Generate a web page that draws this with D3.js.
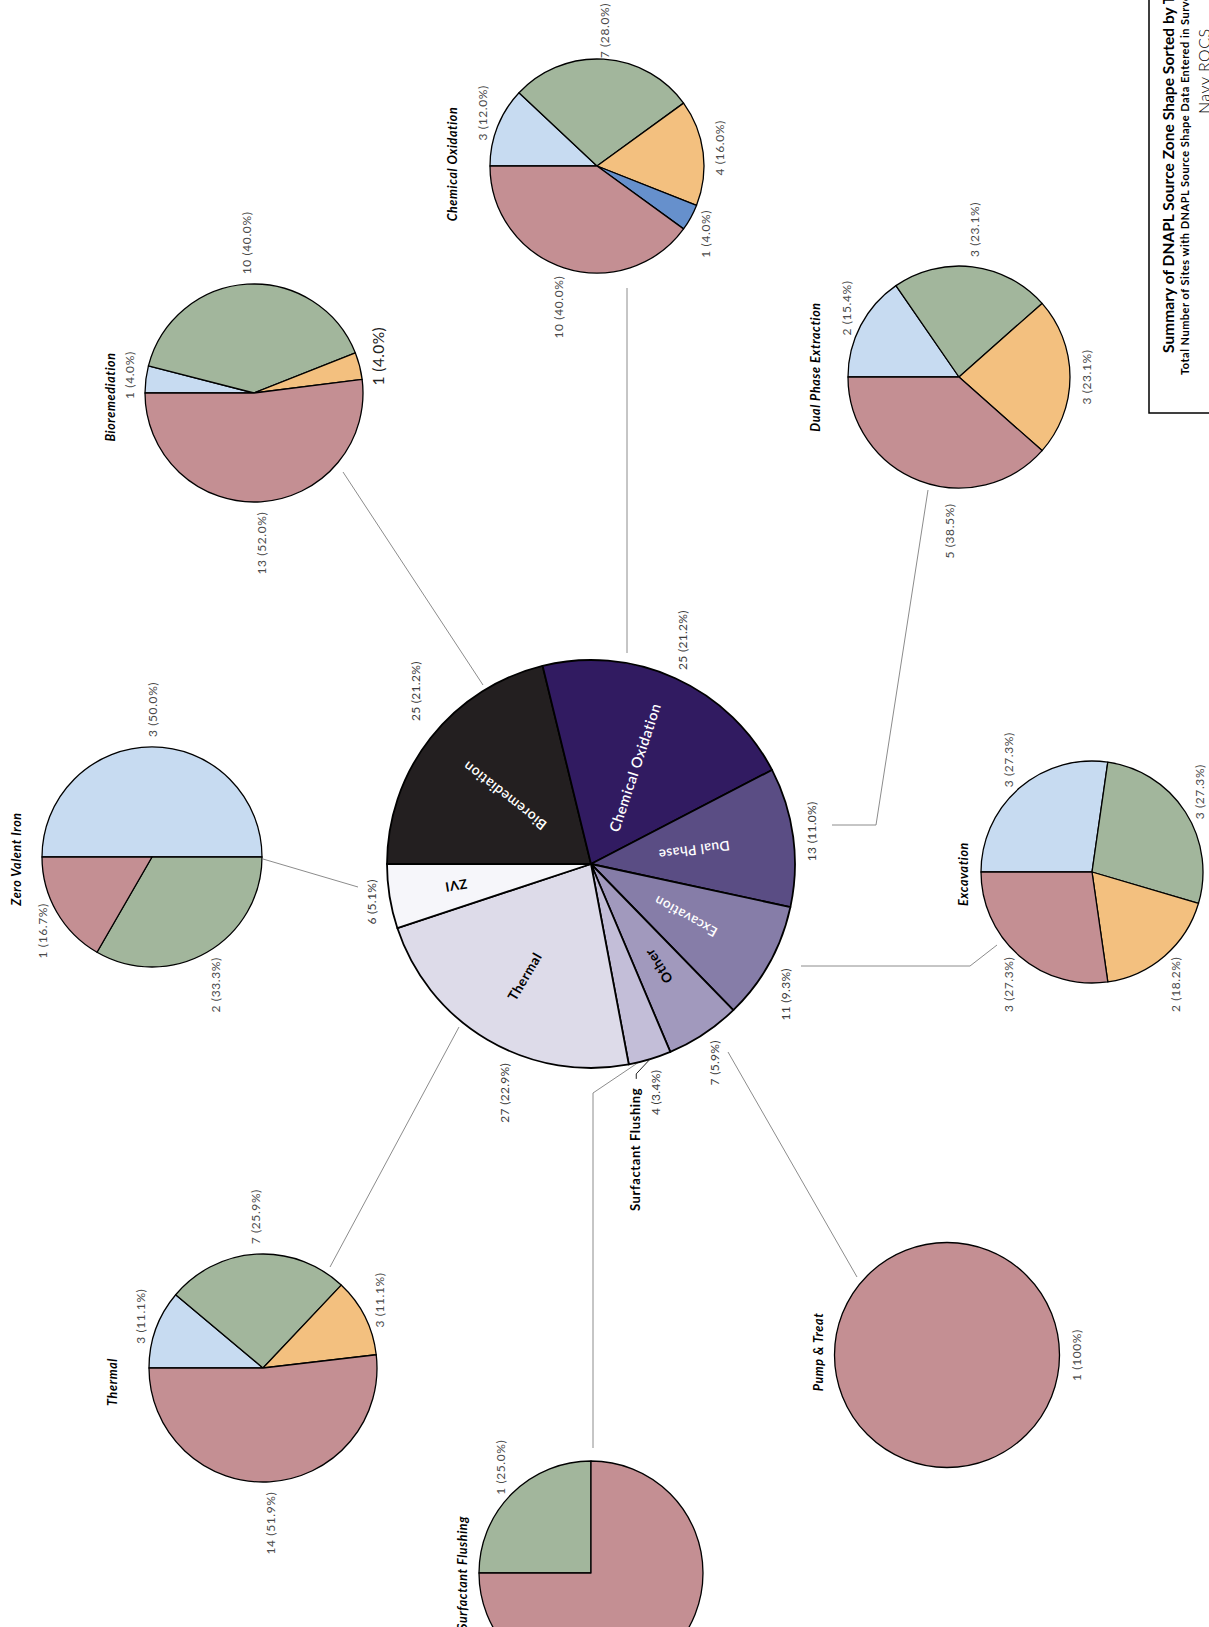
<!DOCTYPE html>
<html>
<head>
<meta charset="utf-8">
<script src="https://cdn.jsdelivr.net/npm/d3@7"></script>
<style>
  html, body { margin: 0; padding: 0; background: #fff; overflow: hidden; }
  svg { display: block; }
  text { font-family: Lato, "Open Sans", sans-serif; }
</style>
</head>
<body>
<div id="chart"></div>
<script>
// ---- Sites per remediation technology (centre pie) ----
const technologies = ["Bioremediation", "Chemical Oxidation", "Dual Phase", "Excavation",
                      "Other", "Surfactant Flushing", "Thermal", "ZVI"];
const technologyInnerLabels = ["Bioremediation", "Chemical Oxidation", "Dual Phase", "Excavation",
                               "Other", "", "Thermal", "ZVI"];
const technologySites = [25, 25, 13, 11, 7, 4, 27, 6];

// ---- Source zone shape breakdown per technology (shape classes in fixed order) ----
const shapeClasses = ["shape 1", "shape 2", "shape 3", "shape 4", "shape 5"];
const subTitles = ["Chemical Oxidation", "Bioremediation", "Dual Phase Extraction", "Zero Valent Iron",
                   "Excavation", "Thermal", "Pump & Treat", "Surfactant Flushing"];
const chemOxShapes      = [3, 7, 4, 1, 10];
const bioShapes         = [1, 10, 1, 0, 13];
const dualPhaseShapes   = [2, 3, 3, 0, 5];
const zviShapes         = [3, 2, 0, 0, 1];
const excavationShapes  = [3, 3, 2, 0, 3];
const thermalShapes     = [3, 7, 3, 0, 14];
const pumpTreatShapes   = [0, 0, 0, 0, 1];
const surfactantShapes  = [0, 1, 0, 0, 3];
const subSeries = [chemOxShapes, bioShapes, dualPhaseShapes, zviShapes,
                   excavationShapes, thermalShapes, pumpTreatShapes, surfactantShapes];

const titleLines = [
  "Summary of DNAPL Source Zone Shape Sorted by Technology",
  "Total Number of Sites with DNAPL Source Shape Data Entered in Survey",
  "Navy ROCS"
];

// ---- Layout (landscape sheet, turned a quarter for the portrait page) ----
const PAGE_W = 1209, PAGE_H = 1627;
const SHEET_RIGHT = PAGE_H - 3;   // labels are kept inside the sheet's right edge
const mainPie = { cx: 763, cy: 591, r: 204 };
const subLayout = [
  { cx: 1461, cy: 597,  r: 107,   gap: 38, dx: 2 },
  { cx: 1234, cy: 254,  r: 109,   gap: 35, dx: -4 },
  { cx: 1250, cy: 959,  r: 111,   gap: 33, dx: 10 },
  { cx: 770,  cy: 152,  r: 110,   gap: 26, dx: -2 },
  { cx: 755,  cy: 1092, r: 111,   gap: 18, dx: -2 },
  { cx: 259,  cy: 263,  r: 114,   gap: 37, dx: -14 },
  { cx: 272,  cy: 947,  r: 112.5, gap: 16, dx: 3 },
  { cx: 54,   cy: 591,  r: 112,   gap: 17, dx: 0 }
];
// hand adjustments of a few value labels (sheet pixels)
const mainLabelNudge = { "Bioremediation": [21, 0], "Excavation": [-13, 0], "Thermal": [-17, 26] };
const subLabelNudge = { "Dual Phase Extraction|shape 5": [-15, 36] };
// radial position of the names written inside the centre pie (fraction of radius)
const innerLabelRadius = { "Bioremediation": 0.54, "Chemical Oxidation": 0.52, "Dual Phase": 0.51,
  "Excavation": 0.53, "Other": 0.6, "Thermal": 0.64, "ZVI": 0.67 };
const innerLabelStyle = {
  "Bioremediation": { size: 14, fill: "#fff", weight: 600, turn: 0 },
  "Chemical Oxidation": { size: 14.5, fill: "#fff", weight: 600, turn: -6 },
  "Dual Phase": { size: 13.5, fill: "#fff", weight: 600, turn: 0 },
  "Excavation": { size: 13.5, fill: "#fff", weight: 600, turn: 0 },
  "Other": { size: 13.5, fill: "#000", weight: 700, turn: 0 },
  "Thermal": { size: 13.5, fill: "#000", weight: 700, turn: 0 },
  "ZVI": { size: 13, fill: "#000", weight: 700, turn: 0 }
};
// leader lines joining the centre pie to each breakdown pie
const leaderPaths = [
  [[1155, 343], [942, 483]],
  [[1339, 627], [974, 627]],
  [[1137, 928], [802, 876], [802, 832]],
  [[682, 997], [661, 970], [661, 801]],
  [[350, 857], [575, 728]],
  [[179, 593], [534, 593], [565, 639]],
  [[600, 459], [360, 330]],
  [[768, 263], [740, 358]]
];

const svg = d3.select("#chart").append("svg")
  .attr("width", PAGE_W).attr("height", PAGE_H);
const sheet = svg.append("g")
  .attr("transform", `translate(0,${PAGE_H}) rotate(-90)`);

const pctText = (v, total) => {
  const p = v / total * 100;
  return `${v} (${p === 100 ? "100" : p.toFixed(1)}%)`;
};

// place a value label just outside the rim, pushed out by half its box
function placeOutside(sel, cx, r, pad, nudgeOf) {
  sel.each(function (d) {
    const t = d3.select(this);
    const w = this.getComputedTextLength();
    const h = parseFloat(t.attr("font-size"));
    const a = (d.startAngle + d.endAngle) / 2;
    const s = Math.sin(a), c = Math.cos(a);
    const n = nudgeOf(d) || [0, 0];
    let x = s * (r + pad) + s * w / 2 + n[0];
    const y = -c * (r + pad) - c * h * 0.55 + n[1];
    if (cx + x + w / 2 > SHEET_RIGHT) x = SHEET_RIGHT - cx - w / 2;
    t.attr("x", x).attr("y", y)
     .attr("text-anchor", "middle")
     .attr("dominant-baseline", "central");
  });
}

// ---- leader lines ----
const line = d3.line();
sheet.append("g").selectAll("path").data(leaderPaths).join("path")
  .attr("d", line)
  .attr("fill", "none")
  .attr("stroke", "#8c8c8c")
  .attr("stroke-width", 1);

// ---- breakdown pies ----
const shapeColor = d3.scaleOrdinal()
  .domain(shapeClasses)
  .range(["#c7dbf1", "#a2b69c", "#f3c07f", "#6690cc", "#c48f93"]);
const subPie = d3.pie().sort(null).value(d => d.v);

subSeries.forEach((vals, i) => {
  const L = subLayout[i];
  const total = d3.sum(vals);
  const data = vals.map((v, k) => ({ cls: shapeClasses[k], v }));
  const arcs = subPie(data).filter(d => d.data.v > 0);
  const arc = d3.arc().innerRadius(0).outerRadius(L.r);
  const g = sheet.append("g").attr("transform", `translate(${L.cx},${L.cy})`);

  g.selectAll("path").data(arcs).join("path")
    .attr("d", arc)
    .attr("fill", d => shapeColor(d.data.cls))
    .attr("stroke", "#000")
    .attr("stroke-width", 1.3)
    .attr("stroke-linejoin", "round");

  const big = d => subTitles[i] === "Bioremediation" && d.data.cls === shapeClasses[2];
  g.selectAll("text.val").data(arcs).join("text")
    .attr("class", "val")
    .attr("font-size", d => big(d) ? 15.5 : 12)
    .attr("letter-spacing", d => big(d) ? 0.4 : 0.6)
    .attr("fill", d => big(d) ? "#222" : "#4a4a4a")
    .text(d => pctText(d.data.v, total))
    .call(placeOutside, L.cx, L.r, 10, d => subLabelNudge[`${subTitles[i]}|${d.data.cls}`]);

  sheet.append("text")
    .attr("x", L.cx + L.dx)
    .attr("y", L.cy - L.r - L.gap)
    .attr("text-anchor", "middle")
    .attr("dominant-baseline", "central")
    .attr("font-size", 12.5)
    .attr("letter-spacing", 0.6)
    .attr("font-weight", 700)
    .attr("font-style", "italic")
    .attr("fill", "#000")
    .text(subTitles[i]);
});

// ---- centre pie ----
const techColor = d3.scaleOrdinal()
  .domain(technologies)
  .range(["#231f20", "#311b61", "#5a4d84", "#867da8", "#a199bd", "#c3bed8", "#dddbe9", "#f6f6fa"]);
const mainTotal = d3.sum(technologySites);
const mainArcs = d3.pie().sort(null).value(d => d.v)(
  technologies.map((name, k) => ({ name, v: technologySites[k], inner: technologyInnerLabels[k] }))
);
const mg = sheet.append("g").attr("transform", `translate(${mainPie.cx},${mainPie.cy})`);
mg.selectAll("path").data(mainArcs).join("path")
  .attr("d", d3.arc().innerRadius(0).outerRadius(mainPie.r))
  .attr("fill", d => techColor(d.data.name))
  .attr("stroke", "#000")
  .attr("stroke-width", 1.8)
  .attr("stroke-linejoin", "round");

// names inside the slices, written along the radius and kept readable
mg.selectAll("text.inner").data(mainArcs.filter(d => d.data.inner)).join("text")
  .attr("class", "inner")
  .attr("text-anchor", "middle")
  .attr("dominant-baseline", "central")
  .attr("font-size", d => innerLabelStyle[d.data.inner].size)
  .attr("font-weight", d => innerLabelStyle[d.data.inner].weight)
  .attr("fill", d => innerLabelStyle[d.data.inner].fill)
  .attr("letter-spacing", 0.5)
  .attr("transform", d => {
    const a = (d.startAngle + d.endAngle) / 2;
    const rr = mainPie.r * innerLabelRadius[d.data.inner];
    let rot = a * 180 / Math.PI - 90;
    while (rot > 75) rot -= 180;
    while (rot <= -105) rot += 180;
    rot += innerLabelStyle[d.data.inner].turn;
    return `translate(${Math.sin(a) * rr},${-Math.cos(a) * rr}) rotate(${rot})`;
  })
  .text(d => d.data.inner);

// value labels round the centre pie
const mainVals = mg.selectAll("text.val").data(mainArcs).join("text")
  .attr("class", "val")
  .attr("font-size", 12)
  .attr("letter-spacing", 0.3)
  .attr("fill", "#3c3c3c")
  .text(d => pctText(d.data.v, mainTotal))
  .call(placeOutside, mainPie.cx, mainPie.r, 12, d => mainLabelNudge[d.data.name]);

// the narrow slice without an inside name gets its name beside the value
const narrow = mainArcs.find(d => !d.data.inner);
const narrowVal = mainVals.filter(d => d === narrow);
const vx = +narrowVal.attr("x"), vy = +narrowVal.attr("y");
const nameText = mg.append("text")
  .attr("x", vx - 57).attr("y", vy - 20)
  .attr("text-anchor", "middle")
  .attr("dominant-baseline", "central")
  .attr("font-size", 13)
  .attr("letter-spacing", 0.6)
  .attr("font-weight", 700)
  .attr("fill", "#000")
  .text(narrow.data.name);
const nameEnd = vx - 57 + nameText.node().getComputedTextLength() / 2;
const na = (narrow.startAngle + narrow.endAngle) / 2;
mg.append("path")
  .attr("d", line([
    [Math.sin(na) * mainPie.r, -Math.cos(na) * mainPie.r],
    [nameEnd + 14, vy - 19],
    [nameEnd + 9, vy - 19]
  ]))
  .attr("fill", "none")
  .attr("stroke", "#222")
  .attr("stroke-width", 1);

// ---- title box ----
sheet.append("rect")
  .attr("x", 1214).attr("y", 1149)
  .attr("width", 600).attr("height", 200)
  .attr("fill", "none")
  .attr("stroke", "#000")
  .attr("stroke-width", 1.5);
sheet.append("text")
  .attr("x", 1274).attr("y", 1174)
  .attr("font-size", 15.5).attr("letter-spacing", 0.05).attr("font-weight", 700).attr("fill", "#000")
  .text(titleLines[0]);
sheet.append("text")
  .attr("x", 1252).attr("y", 1189)
  .attr("font-size", 11).attr("letter-spacing", 0.5).attr("font-weight", 700).attr("fill", "#000")
  .text(titleLines[1]);
sheet.append("text")
  .attr("x", 1513).attr("y", 1210)
  .attr("font-size", 16).attr("letter-spacing", 0.5).attr("font-weight", 300).attr("fill", "#000")
  .text(titleLines[2]);
</script>
</body>
</html>
